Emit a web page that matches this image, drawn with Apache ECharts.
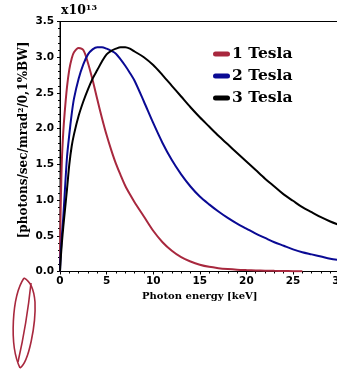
<!DOCTYPE html>
<html>
<head>
<meta charset="utf-8">
<script src="https://cdn.jsdelivr.net/npm/echarts@6/dist/echarts.min.js"></script>
<style>
  html, body { margin: 0; padding: 0; background: #fff; }
  #chart { width: 337px; height: 370px; }
</style>
</head>
<body>
<div id="chart"></div>
<script>
// Photon energy samples [keV]
const energy = [0, 0.05, 0.1, 0.2, 0.35, 0.5, 0.75, 1, 1.25, 1.5, 2, 2.5, 3, 3.5, 4, 4.5, 5, 5.5, 6, 6.5, 7, 7.5, 8, 9, 10, 11, 12, 13, 14, 15, 16, 17, 18, 19, 20, 21, 22, 23, 24, 25, 26, 27, 28, 29, 30];

// Brightness in units of 1e13 photons/sec/mrad^2/0.1%BW
const tesla1 = [0, 0.72, 1.05, 1.55, 1.95, 2.22, 2.58, 2.83, 2.98, 3.07, 3.13, 3.10, 2.92, 2.68, 2.41, 2.15, 1.91, 1.70, 1.51, 1.35, 1.20, 1.08, 0.97, 0.77, 0.57, 0.41, 0.29, 0.20, 0.14, 0.095, 0.065, 0.047, 0.035, 0.026, 0.02, 0.015, 0.012, 0.009, 0.007, 0.005, 0.004, null, null, null, null];
const tesla2 = [0, 0.18, 0.30, 0.50, 0.76, 1.08, 1.60, 1.92, 2.20, 2.42, 2.70, 2.90, 3.04, 3.11, 3.14, 3.14, 3.12, 3.09, 3.05, 2.97, 2.88, 2.78, 2.67, 2.38, 2.08, 1.80, 1.56, 1.36, 1.19, 1.05, 0.94, 0.84, 0.75, 0.67, 0.60, 0.53, 0.47, 0.41, 0.36, 0.31, 0.27, 0.24, 0.21, 0.18, 0.16];
const tesla3 = [0, 0.12, 0.22, 0.40, 0.62, 0.82, 1.15, 1.50, 1.75, 1.92, 2.18, 2.38, 2.55, 2.70, 2.82, 2.94, 3.04, 3.09, 3.12, 3.14, 3.14, 3.12, 3.08, 3.00, 2.89, 2.75, 2.60, 2.45, 2.30, 2.16, 2.03, 1.90, 1.78, 1.66, 1.54, 1.42, 1.30, 1.19, 1.08, 0.99, 0.90, 0.83, 0.76, 0.70, 0.65];

const seriesNames = ['1 Tesla', '2 Tesla', '3 Tesla'];
const seriesColors = ['#a8283e', '#0a0a94', '#000000'];
const seriesValues = [tesla1, tesla2, tesla3];

const xTicks = { min: 0, max: 30, step: 5 };
const yTicks = { min: 0, max: 3.5, step: 0.5 };
const yTitle = '[photons/sec/mrad²/0,1%BW]';

const serif = '"DejaVu Serif", serif';
const sans = '"DejaVu Sans", sans-serif';

const pairs = vals => energy.map((e, i) => [e, vals[i]]);

// hand-drawn pen mark in the lower-left corner
const penStyle = { stroke: '#a8283e', lineWidth: 1.6, fill: null };
const penStrokes = [
  [24, 278, 12, 296, 9, 345, 20, 368],
  [20, 368, 29, 362, 36, 324, 35, 302],
  [35, 302, 34, 290, 30, 281, 24, 278],
  [31, 283, 28, 312, 23, 340, 18, 362]
].map(p => ({
  type: 'bezierCurve',
  shape: { x1: p[0], y1: p[1], cpx1: p[2], cpy1: p[3], cpx2: p[4], cpy2: p[5], x2: p[6], y2: p[7] },
  style: penStyle
}));

const chart = echarts.init(document.getElementById('chart'), null, { renderer: 'canvas' });

chart.setOption({
  animation: false,
  backgroundColor: '#ffffff',
  grid: {
    left: 60, top: 21.5, width: 279.6, height: 250,
    containLabel: false, outerBoundsMode: 'none',
    show: true, borderColor: '#000', borderWidth: 1
  },
  legend: {
    orient: 'vertical',
    left: 208, top: 41,
    itemWidth: 17, itemHeight: 5, itemGap: 6,
    icon: 'path://M2.5,0 L14.5,0 A2.5,2.5 0 0 1 14.5,5 L2.5,5 A2.5,2.5 0 0 1 2.5,0 Z',
    textStyle: { fontFamily: serif, fontWeight: 'bold', fontSize: 15.5, color: '#000', lineHeight: 16, padding: [0, 0, 0, -3] },
    data: seriesNames
  },
  xAxis: {
    type: 'value',
    min: xTicks.min, max: xTicks.max, interval: xTicks.step,
    name: 'Photon energy [keV]',
    nameLocation: 'middle', nameGap: 17,
    nameTextStyle: { fontFamily: serif, fontWeight: 'bold', fontSize: 10, color: '#000' },
    axisLine: { lineStyle: { color: '#000', width: 1 } },
    axisTick: { show: true, length: 3, lineStyle: { color: '#000' } },
    minorTick: { show: true, splitNumber: 5, length: 2, lineStyle: { color: '#000' } },
    splitLine: { show: false },
    axisLabel: { fontFamily: sans, fontWeight: 'bold', fontSize: 10.5, color: '#000', margin: 4, hideOverlap: false }
  },
  yAxis: {
    type: 'value',
    min: yTicks.min, max: yTicks.max, interval: yTicks.step,
    axisLine: { show: true, lineStyle: { color: '#000', width: 1 } },
    axisTick: { show: true, length: 3, lineStyle: { color: '#000' } },
    minorTick: { show: true, splitNumber: 5, length: 2, lineStyle: { color: '#000' } },
    splitLine: { show: false },
    axisLabel: { fontFamily: sans, fontWeight: 'bold', fontSize: 10.5, color: '#000', margin: 6,
      formatter: v => v.toFixed(1) }
  },
  graphic: [
    {
      type: 'text', left: 61, top: 4,
      style: {
        text: '{b|x10}{s|13}',
        rich: {
          b: { fontFamily: serif, fontWeight: 'bold', fontSize: 12.5, fill: '#000' },
          s: { fontFamily: serif, fontWeight: 'bold', fontSize: 8, fill: '#000', verticalAlign: 'top', padding: [0, 0, 6, 0] }
        }
      }
    },
    {
      // vertical axis title
      type: 'text', x: 24, y: 140, rotation: Math.PI / 2,
      style: {
        text: yTitle, align: 'center', verticalAlign: 'middle',
        fontFamily: serif, fontWeight: 'bold', fontSize: 12, fill: '#000'
      }
    }
  ].concat(penStrokes),
  series: seriesValues.map((vals, i) => ({
    name: seriesNames[i],
    type: 'line',
    data: pairs(vals),
    smooth: 0.3,
    showSymbol: false,
    connectNulls: false,
    clip: true,
    itemStyle: { color: seriesColors[i] },
    lineStyle: { color: seriesColors[i], width: 2 }
  }))
});
</script>
</body>
</html>
